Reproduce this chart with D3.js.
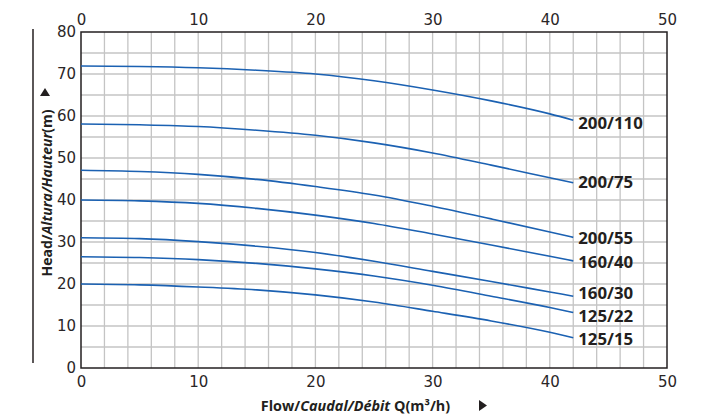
<!DOCTYPE html>
<html><head><meta charset="utf-8">
<script src="https://cdn.jsdelivr.net/npm/d3@7"></script>
<style>body{margin:0;background:#fff}svg{display:block}</style>
</head><body><svg id="c" width="710" height="414"></svg>
<script>
const flow = [0, 5, 10, 15, 20, 25, 30, 35, 40, 42];
const seriesNames = ["200/110", "200/75", "200/55", "160/40", "160/30", "125/22", "125/15"];
const h200_110 = [71.9, 71.8, 71.5, 70.9, 70.0, 68.4, 66.2, 63.6, 60.5, 59.0];
const h200_75  = [58.1, 57.9, 57.5, 56.6, 55.4, 53.6, 51.2, 48.3, 45.3, 44.1];
const h200_55  = [47.1, 46.8, 46.1, 44.9, 43.2, 41.2, 38.5, 35.5, 32.4, 31.1];
const h160_40  = [40.0, 39.8, 39.2, 38.0, 36.4, 34.4, 31.9, 29.3, 26.6, 25.5];
const h160_30  = [31.0, 30.8, 30.1, 29.0, 27.5, 25.4, 23.0, 20.6, 18.1, 17.1];
const h125_22  = [26.5, 26.3, 25.8, 24.9, 23.6, 21.9, 19.7, 17.1, 14.4, 13.2];
const h125_15  = [20.0, 19.8, 19.3, 18.6, 17.4, 15.7, 13.5, 11.2, 8.5, 7.2];
const labelHeads = [58.4, 44.2, 31.0, 25.3, 17.8, 12.3, 6.8];
const xTicks = [0, 10, 20, 30, 40, 50];
const yTicks = [0, 10, 20, 30, 40, 50, 60, 70, 80];

const series = [h200_110, h200_75, h200_55, h160_40, h160_30, h125_22, h125_15];
const svg = d3.select("#c");
const x = d3.scaleLinear().domain([0, 50]).range([81, 667]);
const y = d3.scaleLinear().domain([0, 80]).range([368, 32]);
const dark = "#231f20";
const grid = "#c4c4c4";

// grid
const g = svg.append("g");
g.selectAll("line.v").data(d3.range(2, 50, 2)).join("line")
  .attr("x1", d => x(d)).attr("x2", d => x(d)).attr("y1", y(0)).attr("y2", y(80))
  .attr("stroke", grid).attr("stroke-width", 1.3);
g.selectAll("line.h").data(d3.range(5, 80, 5)).join("line")
  .attr("x1", x(0)).attr("x2", x(50)).attr("y1", d => y(d)).attr("y2", d => y(d))
  .attr("stroke", grid).attr("stroke-width", 1.3);

// frame
svg.append("rect").attr("x", x(0)).attr("y", y(80)).attr("width", x(50) - x(0)).attr("height", y(0) - y(80))
  .attr("fill", "none").attr("stroke", dark).attr("stroke-width", 1.5);

// axes (labels only)
const tickFont = "DejaVu Sans, Verdana, sans-serif";
function styleAxis(sel) {
  sel.select(".domain").remove();
  sel.selectAll(".tick line").remove();
  sel.selectAll("text").attr("font-family", tickFont).attr("font-size", 15).attr("fill", "#2a2627");
}
svg.append("g").attr("transform", `translate(0,${y(0)})`)
  .call(d3.axisBottom(x).tickValues(xTicks).tickSize(0).tickPadding(8)).call(styleAxis);
svg.append("g").attr("transform", `translate(0,${y(80)})`)
  .call(d3.axisTop(x).tickValues(xTicks).tickSize(0).tickPadding(7)).call(styleAxis);
svg.append("g").attr("transform", `translate(${x(0)},0)`)
  .call(d3.axisLeft(y).tickValues(yTicks).tickSize(0).tickPadding(5)).call(styleAxis);

// curves
const line = d3.line().x((d, i) => x(flow[i])).y(d => y(d)).curve(d3.curveMonotoneX);
svg.append("g").selectAll("path").data(series).join("path")
  .attr("d", d => line(d)).attr("fill", "none").attr("stroke", "#1b61b2").attr("stroke-width", 1.6);

// labels
svg.append("g").selectAll("text").data(seriesNames).join("text")
  .attr("x", x(42) + 5).attr("y", (d, i) => y(labelHeads[i]))
  .attr("dy", "0.36em")
  .attr("font-family", "Open Sans, sans-serif").attr("font-weight", 700).attr("font-size", 16.8)
  .attr("fill", dark).text(d => d);

// left decorative line
svg.append("line").attr("x1", 33).attr("x2", 33).attr("y1", 29).attr("y2", 363)
  .attr("stroke", "#4a4546").attr("stroke-width", 1.8);

// y title
const yt = svg.append("text").attr("transform", "translate(52,193) rotate(-90)")
  .attr("text-anchor", "middle").attr("font-family", "Open Sans, sans-serif")
  .attr("font-weight", 700).attr("font-size", 14).attr("fill", dark);
yt.append("tspan").text("Head/");
yt.append("tspan").attr("font-style", "italic").text("Altura/Hauteur");
yt.append("tspan").text("(m)");
svg.append("path").attr("d", "M40,96 L50,96 L45,88 Z").attr("fill", dark);

// x title
const xt = svg.append("text").attr("x", 355.5).attr("y", 411)
  .attr("text-anchor", "middle").attr("font-family", "Open Sans, sans-serif")
  .attr("font-weight", 700).attr("font-size", 14.4).attr("fill", dark);
xt.append("tspan").text("Flow/");
xt.append("tspan").attr("font-style", "italic").text("Caudal/Débit");
xt.append("tspan").text(" Q(m³/h)");
svg.append("path").attr("d", "M479,400 L479,411 L487,405.5 Z").attr("fill", dark);
</script></body></html>
